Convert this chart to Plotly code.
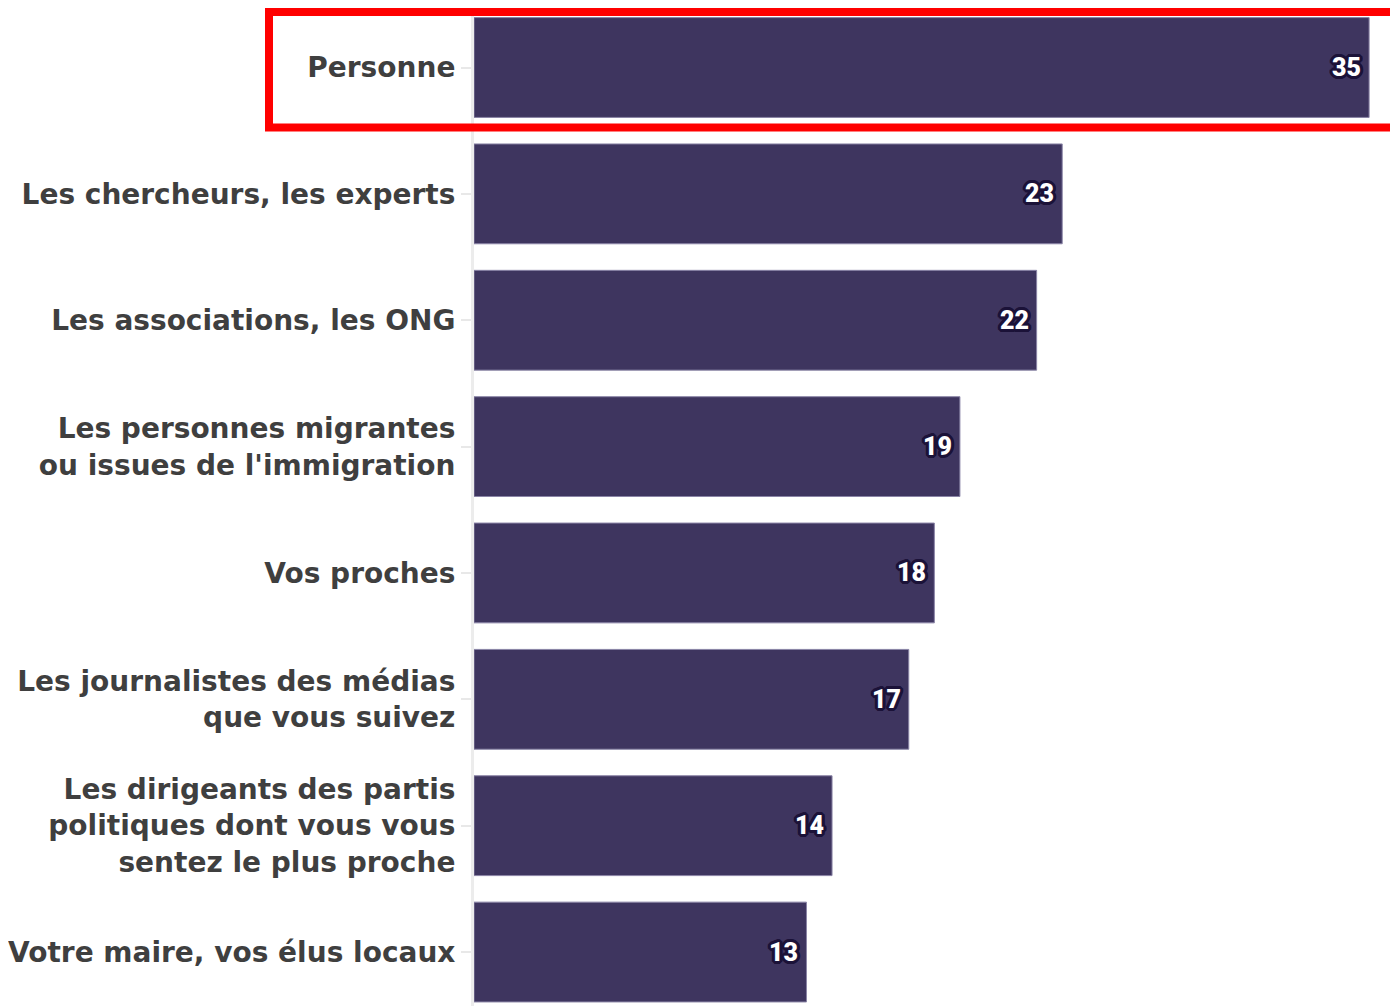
import plotly.graph_objects as go

categories = [
    "Personne",
    "Les chercheurs, les experts",
    "Les associations, les ONG",
    "Les personnes migrantes<br>ou issues de l'immigration",
    "Vos proches",
    "Les journalistes des médias<br>que vous suivez",
    "Les dirigeants des partis<br>politiques dont vous vous<br>sentez le plus proche",
    "Votre maire, vos élus locaux",
]
values = [35, 23, 22, 19, 18, 17, 14, 13]
value_labels = [str(v) for v in values]

BAR = "#3e355f"
OUT = "#1b1238"
offs = [(-3, 0), (3, 0), (0, -3), (0, 3), (-2, -2), (2, -2), (-2, 2), (2, 2),
        (-3, -1), (3, 1), (-1, 3), (1, -3), (-3, 1), (3, -1), (1, 3), (-1, -3)]
sh = ", ".join(f"{dx}px {dy}px 0 {OUT}" for dx, dy in offs)

ypos = list(range(len(categories)))

fig = go.Figure(go.Bar(
    x=values,
    y=ypos,
    orientation="h",
    width=0.79,
    marker=dict(color=BAR, line=dict(color="#8a84a6", width=1)),
    hoverinfo="skip",
))

for v, yy, lab in zip(values, ypos, value_labels):
    fig.add_annotation(
        x=v, y=yy, text=lab, showarrow=False,
        xanchor="right", yanchor="middle", xshift=-6,
        font=dict(family="Roboto", size=25, color="white", weight=900, shadow=sh),
    )

fig.update_layout(
    width=1390,
    height=998,
    margin=dict(l=466, r=0, t=0, b=0),
    paper_bgcolor="white",
    plot_bgcolor="white",
    showlegend=False,
    xaxis=dict(range=[0, 36.13], visible=False, fixedrange=True),
    yaxis=dict(
        range=[7.427, -0.471],
        tickmode="array",
        tickvals=ypos,
        ticktext=categories,
        ticks="outside",
        ticklen=10,
        tickcolor="#e8e8e8",
        tickwidth=2,
        showline=True,
        linecolor="#ececec",
        linewidth=3,
        showgrid=False,
        zeroline=False,
        layer="below traces",
        tickfont=dict(family="DejaVu Sans", size=28, color="#3f3f3f", weight="bold"),
        ticklabelstandoff=0,
        fixedrange=True,
    ),
    shapes=[dict(
        type="rect", xref="paper", yref="y",
        x0=(261 - 466) / 924, x1=1.02,
        y0=-0.439, y1=0.475,
        line=dict(color="#ff0000", width=8),
        fillcolor="rgba(0,0,0,0)",
        layer="above",
    )],
)

fig.write_html("out.html")
